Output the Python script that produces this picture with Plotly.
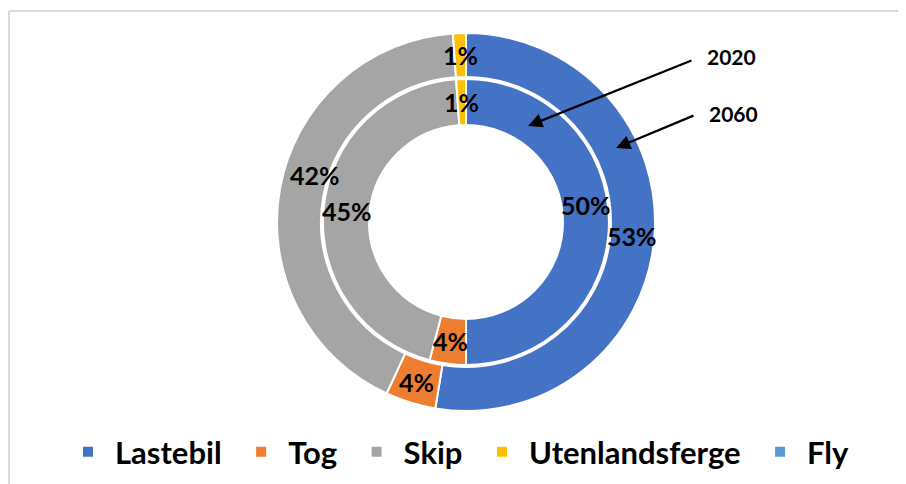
import math
import plotly.graph_objects as go

categories = ["Lastebil", "Tog", "Skip", "Utenlandsferge", "Fly"]
values_2020 = [50.0, 4.1, 44.8, 1.1, 0.0]
values_2060 = [52.6, 4.3, 42.0, 1.1, 0.0]
colors = ["#4472C4", "#ED7D31", "#A5A5A5", "#FFC000", "#5B9BD5"]

# page body has an 8px margin: figure coordinates = screen - OFF
OFF = 8
W, H = 906 - OFF, 484 - OFF
FONT = "Lato"

cx, cy = 466 - OFF, 222 - OFF
r_out, h_out = 189, 145
r_in, h_in = 143, 97

# legend entries get a trailing no-break space for wider spacing
legend_labels = [c + ("\u00a0" if i < len(categories) - 1 else "") for i, c in enumerate(categories)]


def px(x, y):
    return x / W, 1 - y / H


def dom(r):
    return dict(x=[(cx - r) / W, (cx + r) / W], y=[1 - (cy + r) / H, 1 - (cy - r) / H])


common = dict(
    labels=legend_labels,
    sort=False,
    direction="clockwise",
    rotation=0,
    marker=dict(colors=colors, line=dict(color="white", width=2)),
    textinfo="none",
    hoverinfo="label+percent",
)

fig = go.Figure()
fig.add_trace(go.Pie(values=values_2060, hole=h_out / r_out, domain=dom(r_out),
                     name="2060", showlegend=True, **common))
fig.add_trace(go.Pie(values=values_2020, hole=h_in / r_in, domain=dom(r_in),
                     name="2020", showlegend=False, **common))

ann = []


def ring_labels(vals, r_mid, nudges):
    tot = sum(vals)
    cum = 0.0
    for i, v in enumerate(vals):
        if v <= 0:
            continue
        mid = (cum + v / 2) / tot
        cum += v
        th = 2 * math.pi * mid
        x, y = px(cx + r_mid * math.sin(th), cy - r_mid * math.cos(th))
        dx, dy = nudges.get(i, (0, 0))
        ann.append(dict(x=x, y=y, xref="paper", yref="paper", showarrow=False,
                        text=f"{round(v / tot * 100):.0f}%", xanchor="center", yanchor="middle",
                        xshift=dx, yshift=dy,
                        font=dict(family=FONT, size=25, color="black", weight="bold")))


ring_labels(values_2060, (r_out + h_out) / 2, {2: (13, 17)})
ring_labels(values_2020, (r_in + h_in) / 2, {0: (0, 17)})

for yr, head, tail, txt in [("2020", (528, 126), (693, 60), (731, 57)),
                            ("2060", (616, 148), (695, 115), (733, 113))]:
    hx, hy = px(head[0] - OFF, head[1] - OFF)
    ann.append(dict(x=hx, y=hy, xref="paper", yref="paper",
                    text="", showarrow=True, ax=tail[0] - head[0], ay=tail[1] - head[1],
                    axref="pixel", ayref="pixel", arrowhead=2, arrowsize=1.3,
                    arrowwidth=2.2, arrowcolor="black", standoff=0))
    tx, ty = px(txt[0] - OFF, txt[1] - OFF)
    ann.append(dict(x=tx, y=ty, xref="paper", yref="paper",
                    text=yr, showarrow=False, xanchor="center", yanchor="middle",
                    font=dict(family=FONT, size=21, color="black", weight="bold")))

lx, ly = px(458 - OFF, 452 - OFF)
fig.update_layout(
    width=W, height=H,
    margin=dict(l=0, r=0, t=0, b=0),
    paper_bgcolor="white",
    plot_bgcolor="white",
    legend=dict(orientation="h", x=lx, xanchor="center", y=ly, yanchor="middle",
                font=dict(family=FONT, size=31, color="black", weight="bold"),
                itemwidth=44, itemclick=False, traceorder="normal"),
    annotations=ann,
    shapes=[
        dict(type="line", xref="paper", yref="paper", x0=1 / W, x1=1.02, y0=1 - 3 / H, y1=1 - 3 / H,
             line=dict(color="#D9D9D9", width=2)),
        dict(type="line", xref="paper", yref="paper", x0=1 / W, x1=1 / W, y0=1 - 3 / H, y1=-0.02,
             line=dict(color="#D9D9D9", width=2)),
    ],
)

fig.write_html("out.html")
